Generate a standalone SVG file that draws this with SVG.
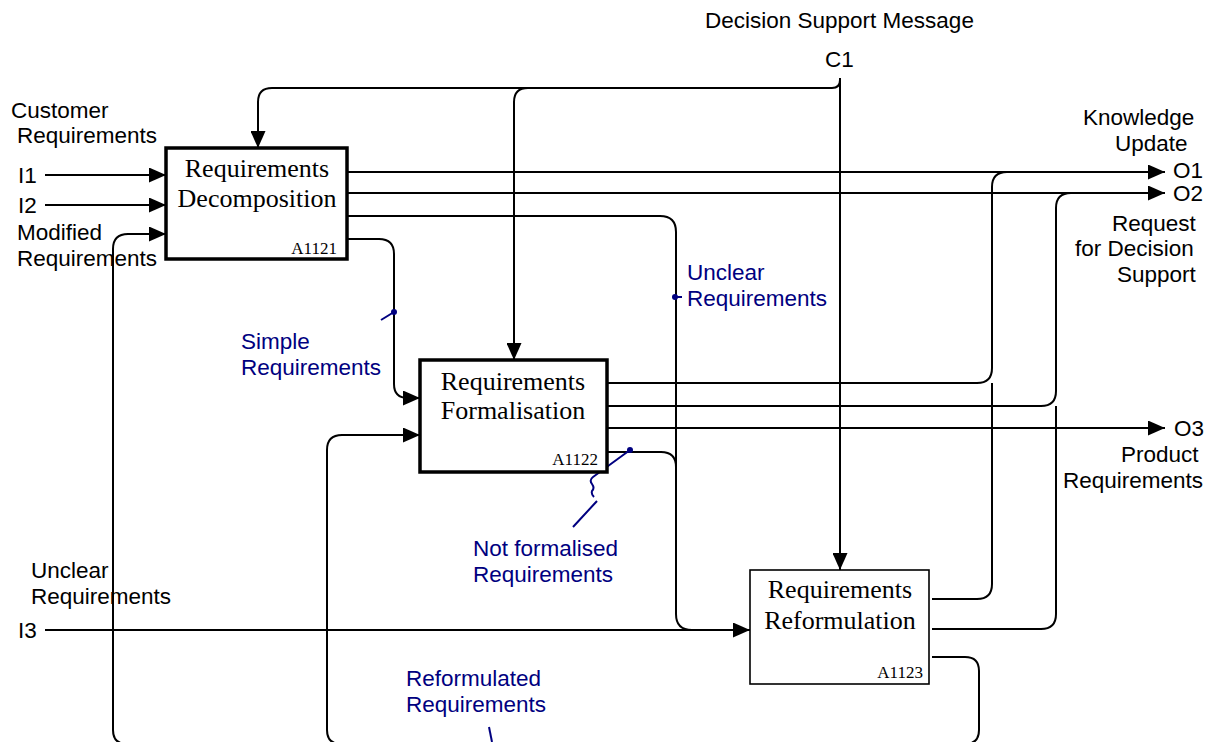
<svg xmlns="http://www.w3.org/2000/svg" width="1209" height="742" viewBox="0 0 1209 742">
<style>
.ln{fill:none;stroke:#000;stroke-width:2}
.bl{fill:none;stroke:#000080;stroke-width:2}
.lbl{font-family:"Liberation Sans",Arial,sans-serif;font-size:22.5px;fill:#000}
.blu{font-family:"Liberation Sans",Arial,sans-serif;font-size:22.5px;fill:#000080}
.ttl{font-family:"Liberation Serif","Times New Roman",serif;font-size:26px;fill:#000;text-anchor:middle}
.num{font-family:"Liberation Serif","Times New Roman",serif;font-size:17px;fill:#000;text-anchor:end}
.thick{fill:#fff;stroke:#000;stroke-width:3.5}
.thin{fill:#fff;stroke:#000;stroke-width:1.6}
</style>
<defs>
<marker id="ah" markerWidth="17" markerHeight="15" refX="17" refY="7.5" orient="auto" markerUnits="userSpaceOnUse">
<path d="M0,0 L17,7.5 L0,15 Z" fill="#000"/>
</marker>
</defs>
<rect width="1209" height="742" fill="#fff"/>

<g id="connectors">
<path class="ln" d="M840,78 L840,570" marker-end="url(#ah)"/>
<path class="ln" d="M840,80 Q840,88 832,88 L272,88 Q258,88 258,102 L258,148" marker-end="url(#ah)"/>
<path class="ln" d="M528,88 Q514,88 514,102 L514,360" marker-end="url(#ah)"/>
<path class="ln" d="M45,175 L166,175" marker-end="url(#ah)"/>
<path class="ln" d="M45,205 L166,205" marker-end="url(#ah)"/>
<path class="ln" d="M45,630 L750,630" marker-end="url(#ah)"/>
<path class="ln" d="M347,172 L1165,172" marker-end="url(#ah)"/>
<path class="ln" d="M347,193 L1165,193" marker-end="url(#ah)"/>
<path class="ln" d="M347,216 L660,216 Q676,216 676,232 L676,614 Q676,630 692,630"/>
<path class="ln" d="M348,239 L379,239 Q394,239 394,254 L394,384 Q394,398 408,398 L420,398" marker-end="url(#ah)"/>
<path class="ln" d="M607,383 L977,383 Q992,383 992,368 L992,187 Q992,172 1007,172"/>
<path class="ln" d="M607,406 L1041,406 Q1056,406 1056,391 L1056,208 Q1056,193 1071,193"/>
<path class="ln" d="M607,428 L1165,428" marker-end="url(#ah)"/>
<path class="ln" d="M607,452 L661,452 Q676,452 676,467"/>
<path class="ln" d="M932,599 L977,599 Q992,599 992,584 L992,383"/>
<path class="ln" d="M932,629 L1041,629 Q1056,629 1056,614 L1056,406"/>
<path class="ln" d="M932,657 L965,657 Q979,657 979,671 L979,730 Q979,744 965,744 L127,744 Q113,744 113,730 L113,249 Q113,234 128,234 L166,234" marker-end="url(#ah)"/>
<path class="ln" d="M341,744 Q327,744 327,730 L327,450 Q327,435 342,435 L420,435" marker-end="url(#ah)"/>
<circle cx="394" cy="312" r="3" fill="#000080"/>
<path class="bl" d="M381,320 L394,312"/>
<circle cx="675" cy="297" r="3" fill="#000080"/>
<path class="bl" d="M675,297 L682,297"/>
<circle cx="630" cy="450" r="3" fill="#000080"/>
<path class="bl" d="M630,450 L593,477 q-4,3 -1,7 q3,4 0,7 q-1,3 2,6 M597,501 L573,527"/>
<path class="bl" d="M489,727 L492,742"/>
</g>

<g id="A1121">
<rect class="thick" x="166" y="148" width="181" height="111"/>
<text class="ttl" x="257" y="177">Requirements</text>
<text class="ttl" x="257" y="207">Decomposition</text>
<text class="num" x="337" y="254">A1121</text>
</g>

<g id="A1122">
<rect class="thick" x="420" y="360" width="187" height="112"/>
<text class="ttl" x="513" y="390">Requirements</text>
<text class="ttl" x="513" y="419">Formalisation</text>
<text class="num" x="598" y="465">A1122</text>
</g>

<g id="A1123">
<rect class="thin" x="750" y="570" width="179" height="114"/>
<text class="ttl" x="840" y="598">Requirements</text>
<text class="ttl" x="840" y="629">Reformulation</text>
<text class="num" x="923" y="678">A1123</text>
</g>

<g id="labels">
<text class="lbl" x="705" y="28">Decision Support Message</text>
<text class="lbl" x="825" y="67">C1</text>
<text class="lbl" x="11" y="118">Customer</text>
<text class="lbl" x="17" y="143">Requirements</text>
<text class="lbl" x="18" y="183">I1</text>
<text class="lbl" x="18" y="213">I2</text>
<text class="lbl" x="17" y="240">Modified</text>
<text class="lbl" x="17" y="266">Requirements</text>
<text class="lbl" x="31" y="578">Unclear</text>
<text class="lbl" x="31" y="604">Requirements</text>
<text class="lbl" x="18" y="638">I3</text>
<text class="lbl" x="1083" y="125">Knowledge</text>
<text class="lbl" x="1115" y="151">Update</text>
<text class="lbl" x="1173" y="178">O1</text>
<text class="lbl" x="1173" y="201">O2</text>
<text class="lbl" x="1112" y="231">Request</text>
<text class="lbl" x="1075" y="256">for Decision</text>
<text class="lbl" x="1117" y="282">Support</text>
<text class="lbl" x="1174" y="436">O3</text>
<text class="lbl" x="1121" y="462">Product</text>
<text class="lbl" x="1063" y="488">Requirements</text>
<text class="blu" x="241" y="349">Simple</text>
<text class="blu" x="241" y="375">Requirements</text>
<text class="blu" x="687" y="280">Unclear</text>
<text class="blu" x="687" y="306">Requirements</text>
<text class="blu" x="473" y="556">Not formalised</text>
<text class="blu" x="473" y="582">Requirements</text>
<text class="blu" x="406" y="686">Reformulated</text>
<text class="blu" x="406" y="712">Requirements</text>
</g>
</svg>
